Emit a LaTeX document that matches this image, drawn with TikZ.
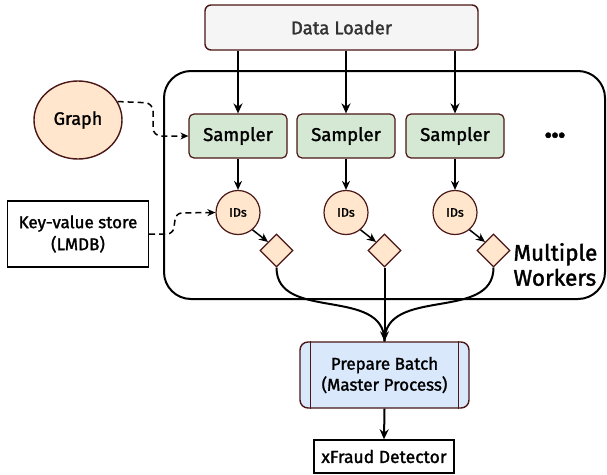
\documentclass[tikz,border=0pt]{standalone}
\usepackage{fontspec}
\setmainfont{Fira Sans}[FakeBold=1.6]
\usepackage{tikz}
\usetikzlibrary{shapes,arrows,arrows.meta,positioning}
\definecolor{brd}{HTML}{4A1616}
\definecolor{peach}{HTML}{FFE6CC}
\definecolor{sgreen}{HTML}{D5E8D4}
\definecolor{pblue}{HTML}{DAE8FC}
\tikzstyle{loaderblock}=[rectangle, rounded corners=6pt, draw=brd, fill=black!4, line width=1.4pt, minimum width=273pt, minimum height=45pt, text=black!80, font=\fontsize{18.5}{22}\selectfont]
\tikzstyle{samplerblock}=[rectangle, rounded corners=5pt, draw=brd, fill=sgreen, line width=1.2pt, minimum width=98pt, minimum height=44pt, font=\fontsize{18.5}{22}\selectfont]
\tikzstyle{idcircle}=[circle, draw=brd, fill=peach, line width=1.2pt, minimum size=44pt, inner sep=0pt, font=\fontsize{12.5}{14}\selectfont]
\tikzstyle{gate}=[diamond, draw=brd, fill=peach, line width=1.2pt, minimum size=33pt, inner sep=0pt]
\tikzstyle{graphcircle}=[ellipse, draw=brd, fill=peach, line width=1.4pt, minimum width=88pt, minimum height=78pt, font=\fontsize{18}{21}\selectfont]
\tikzstyle{storeblock}=[rectangle, draw=black, line width=1.4pt, align=center, minimum width=141pt, minimum height=66pt, font=\fontsize{17}{22}\selectfont]
\tikzstyle{batchblock}=[rectangle, rounded corners=8pt, draw=brd, fill=pblue, line width=1.4pt, align=center, minimum width=169pt, minimum height=66pt, font=\fontsize{17}{21}\selectfont]
\tikzstyle{detectorblock}=[rectangle, draw=black, line width=1.4pt, minimum width=140pt, minimum height=33pt, font=\fontsize{17.5}{20}\selectfont]
\tikzstyle{workerbox}=[rectangle, rounded corners=27pt, draw=black, line width=2pt, minimum width=441pt, minimum height=228pt]
\tikzstyle{flow}=[-{Stealth[length=10pt,width=9pt]}, line width=2pt]
\tikzstyle{thinflow}=[-{Stealth[length=9pt,width=8pt]}, line width=1.5pt]
\tikzstyle{feed}=[-{Stealth[length=8pt,width=7pt]}, line width=1.5pt, dash pattern=on 6pt off 4pt]

\begin{document}
\begin{tikzpicture}[x=1pt, y=-1pt]
\useasboundingbox (0,0) rectangle (607,474);

\node[workerbox] (workers) at (384.5,185) {};
\node[loaderblock] (dl) at (341.5,27.5) {Data Loader};
\node[graphcircle] (gr) at (78,120) {Graph};
\node[storeblock] (kv) at (78,234) {Key-value store\\(LMDB)};

\node[samplerblock] (s1) at (238,136) {Sampler};
\node[samplerblock] (s2) at (346,136) {Sampler};
\node[samplerblock] (s3) at (455,136) {Sampler};
\node (dots) at (555,138) {\fontsize{24}{24}\selectfont\textbullet\kern-1pt\textbullet\kern-1pt\textbullet};

\node[idcircle] (i1) at (238,212.5) {IDs};
\node[idcircle] (i2) at (346,212.5) {IDs};
\node[idcircle] (i3) at (455,212.5) {IDs};
\node[gate] (g1) at (276.5,250.5) {};
\node[gate] (g2) at (384.5,250.5) {};
\node[gate] (g3) at (493.5,250.5) {};
\node[align=left, anchor=west, font=\fontsize{22.5}{25}\selectfont] (mw) at (510,264.5) {Multiple\\Workers};

\node[batchblock] (pb) at (384.5,375) {Prepare Batch\\(Master Process)};
\node[detectorblock] (xf) at (384,456.5) {xFraud Detector};

% inner bars of the process shape
\draw[brd, line width=1.4pt] ([xshift=11pt]pb.north west) -- ([xshift=11pt]pb.south west);
\draw[brd, line width=1.4pt] ([xshift=-11pt]pb.north east) -- ([xshift=-11pt]pb.south east);

\draw[flow] (dl.south -| s1.north) -- (s1.north);
\draw[flow] (dl.south -| s2.north) -- (s2.north);
\draw[flow] (dl.south -| s3.north) -- (s3.north);

\draw[thinflow] (s1.south) -- (i1.north);
\draw[thinflow] (s2.south) -- (i2.north);
\draw[thinflow] (s3.south) -- (i3.north);
\draw[thinflow] (i1.-50) -- (g1.north west);
\draw[thinflow] (i2.-50) -- (g2.north west);
\draw[thinflow] (i3.-50) -- (g3.north west);

\draw[feed, rounded corners=8pt] (gr.25) -- (153,103) -- (153,136) -- (s1.west);
\draw[feed, rounded corners=6pt] (kv.east) -- (173,234) -- (176,213) -- (i1.west);

\draw[line width=2pt] (g1.south) .. controls (276.5,322) and (384.5,286) .. (pb.north);
\draw[line width=2pt] (g3.south) .. controls (493.5,322) and (384.5,286) .. (pb.north);
\draw[flow] (g2.south) -- (pb.north);
\draw[flow] (pb.south) -- (xf.north);

\end{tikzpicture}
\end{document}
